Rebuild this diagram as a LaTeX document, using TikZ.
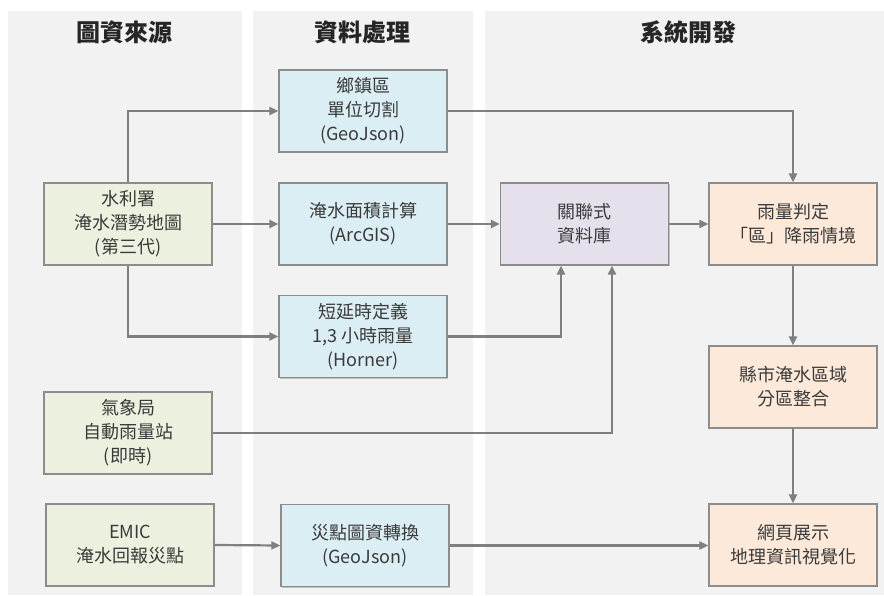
\documentclass[tikz,border=0pt]{standalone}
\usepackage{fontspec}
\setmainfont{Noto Sans CJK TC}
\usetikzlibrary{arrows.meta,shadows}
\definecolor{panelbg}{HTML}{F2F2F2}
\definecolor{srcfill}{HTML}{EBF1DE}
\definecolor{procfill}{HTML}{DBEEF4}
\definecolor{dbfill}{HTML}{E5E0EC}
\definecolor{sysfill}{HTML}{FDE9D9}
\definecolor{edgegray}{HTML}{7F7F7F}
\definecolor{boxline}{HTML}{8C8C8C}
\definecolor{txt}{HTML}{3A3A3A}
\definecolor{ttl}{HTML}{262626}
\tikzset{
  box/.style={draw=boxline, line width=1.3pt, minimum width=168pt, minimum height=82pt,
    align=center, text=txt, font=\fontsize{18}{24}\selectfont, inner sep=2pt,
    drop shadow={shadow xshift=1pt, shadow yshift=-1.2pt, opacity=0.35, fill=black!60}},
  srcbox/.style={box, fill=srcfill},
  procbox/.style={box, fill=procfill},
  dbbox/.style={box, fill=dbfill},
  sysbox/.style={box, fill=sysfill},
  title/.style={text=ttl, font=\fontsize{24}{26}\selectfont\bfseries},
  conn/.style={draw=edgegray, line width=2.2pt, -{Triangle[length=9pt,width=8pt]}}
}
\begin{document}
\begin{tikzpicture}[x=1pt,y=-1pt]
\useasboundingbox (0,0) rectangle (884,596);
\fill[white] (0,0) rectangle (884,596);
\fill[panelbg] (8,11) rectangle (242,595);
\fill[panelbg] (253,11) rectangle (473,595);
\fill[panelbg] (485,11) rectangle (884,595);

\node[title] (t1) at (124,32) {圖資來源};
\node[title] (t2) at (362,32) {資料處理};
\node[title] (t3) at (688,32) {系統開發};

\node[srcbox] (src1) at (128,224) {水利署\\淹水潛勢地圖\\(第三代)};
\node[srcbox] (src2) at (128,433) {氣象局\\自動雨量站\\(即時)};
\node[srcbox] (src3) at (130,545) {EMIC\\淹水回報災點};

\node[procbox] (p1) at (363,111) {鄉鎮區\\單位切割\\(GeoJson)};
\node[procbox] (p2) at (363,224) {淹水面積計算\\(ArcGIS)};
\node[procbox] (p3) at (363,336.5) {短延時定義\\1,3 小時雨量\\(Horner)};
\node[procbox] (p4) at (365,545.5) {災點圖資轉換\\(GeoJson)};

\node[dbbox] (db) at (584.5,224) {關聯式\\資料庫};
\node[sysbox] (rain) at (793,224) {雨量判定\\「區」降雨情境};
\node[sysbox] (county) at (793,387) {縣市淹水區域\\分區整合};
\node[sysbox] (web) at (793,545) {網頁展示\\地理資訊視覺化};

\coordinate (c1) at (128,111);
\coordinate (c2) at (128,336.5);
\coordinate (c3) at (793,111);
\coordinate (c4) at (561,336.5);
\coordinate (c5) at (612,433);

\draw[conn] (src1.north) -- (c1) -- (p1.west);
\draw[conn] (src1.east) -- (p2.west);
\draw[conn] (src1.south) -- (c2) -- (p3.west);
\draw[conn] (p1.east) -- (c3) -- (rain.north);
\draw[conn] (p2.east) -- (db.west);
\draw[conn] (p3.east) -- (c4) -- (c4 |- db.south);
\draw[conn] (src2.east) -- (c5) -- (c5 |- db.south);
\draw[conn] (db.east) -- (rain.west);
\draw[conn] (rain.south) -- (county.north);
\draw[conn] (county.south) -- (web.north);
\draw[conn] (src3.east) -- (p4.west);
\draw[conn] (p4.east) -- (p4.east -| web.west);
\end{tikzpicture}
\end{document}
